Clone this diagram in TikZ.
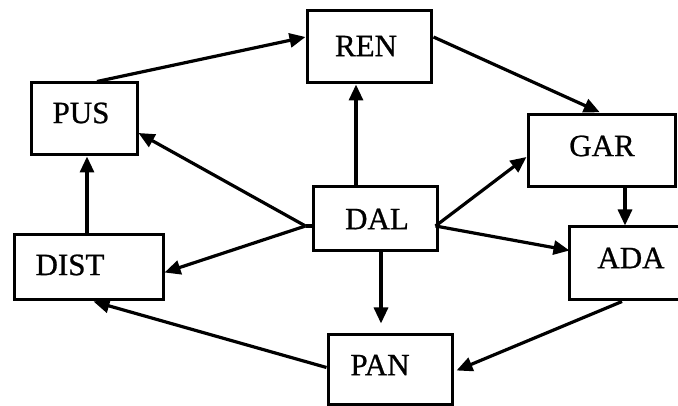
\documentclass[tikz,border=0pt]{standalone}
\usepackage{fontspec}
\setmainfont{Liberation Serif}
\newfontfamily\heavyserif{Liberation Serif}[FakeBold=0.8]
\usetikzlibrary{arrows.meta,calc}
\begin{document}
\begin{tikzpicture}[x=1pt,y=-1pt,
  box/.style={draw,line width=3pt,rectangle,inner sep=0pt},
  lbl/.style={inner sep=0pt,font=\heavyserif\fontsize{31}{31}\selectfont},
  arr/.style={line width=3.2pt,-{Triangle[length=16pt,width=14pt]}},
  ln/.style={line width=3.2pt}]
\useasboundingbox (0,0) rectangle (678,406);
\fill[white] (0,0) rectangle (678,406);
% boxes
\node[box,minimum width=106pt,minimum height=72pt] (pus) at (84,119) {};
\node[box,minimum width=124pt,minimum height=72pt] (ren) at (369,47) {};
\node[box,minimum width=147pt,minimum height=72pt] (gar) at (601.5,151) {};
\node[box,minimum width=124pt,minimum height=64pt] (dal) at (375,219) {};
\node[box,minimum width=149pt,minimum height=65pt] (dist) at (88.5,267.5) {};
\node[box,minimum width=114pt,minimum height=73pt] (ada) at (626,263.5) {};
\node[box,minimum width=124pt,minimum height=69pt] (pan) at (390,369.5) {};
% labels
\node[lbl] (pusT) at (81,113) {PUS};
\node[lbl] (renT) at (366,46) {REN};
\node[lbl] (garT) at (602,146) {GAR};
\node[lbl] (dalT) at (377,219) {DAL};
\node[lbl] (distT) at (70,265) {DIST};
\node[lbl] (adaT) at (631,258) {ADA};
\node[lbl] (panT) at (380,365) {PAN};
% junction points on DAL
\coordinate (jr) at ($(dal.east)+(-3,7)$);
\coordinate (jl) at ($(dal.west)+(-6,7)$);
% connectors
\draw[arr] ($(pus.north)+(13,0)$) -- ($(ren.west)+(0,-10)$);
\draw[arr] ($(dal.north)+(-19,0)$) -- ($(ren.south)+(-13,0)$);
\draw[arr,shorten >=3pt] ($(ren.east)+(1,-10)$) -- ($(gar.north)+(1,0)$);
\draw[ln] (dal.east |- jr) -- (jr);
\draw[arr] (jr) -- ($(gar.west)+(0,6)$);
\draw[arr] ($(gar.south)+(23.5,0)$) -- ($(ada.north)+(-1,0)$);
\draw[arr] (jr) -- ($(ada.west)+(2,-13)$);
\draw[arr] ($(ada.south)+(-4,0)$) -- ($(pan.east)+(3,1)$);
\draw[arr,shorten >=10pt] ($(dal.south)+(6,0)$) -- ($(pan.north)+(-9,0)$);
\draw[ln] (dal.west |- jl) -- (jl);
\draw[arr] (jl) -- ($(pus.east)+(0,14)$);
\draw[arr] (jl) -- ($(dist.east)+(0,5)$);
\draw[arr] ($(pan.west)+(0,-2)$) -- ($(dist.south)+(5,0)$);
\draw[arr] ($(dist.north)+(-1.5,0)$) -- ($(pus.south)+(3,0)$);
\end{tikzpicture}
\end{document}
